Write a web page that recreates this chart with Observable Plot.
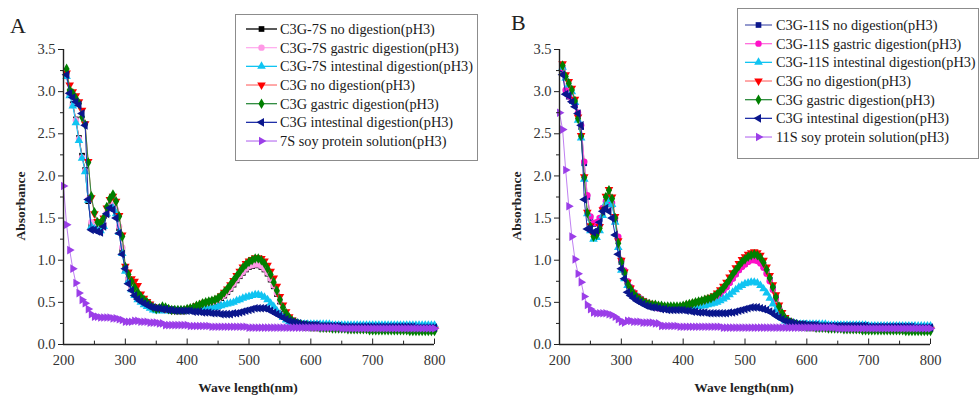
<!DOCTYPE html>
<html>
<head>
<meta charset="utf-8">
<script src="https://cdn.jsdelivr.net/npm/d3@7"></script>
<script src="https://cdn.jsdelivr.net/npm/@observablehq/plot@0.6"></script>
<style>
  html, body { margin: 0; padding: 0; background: #fff; }
  #wrap { position: relative; width: 980px; height: 395px; overflow: hidden; font-family: "Liberation Serif", "DejaVu Serif", serif; }
  .panel { position: absolute; top: 0; }
  #overlay { position: absolute; left: 0; top: 0; }
</style>
</head>
<body>
<div id="wrap">
  <div id="pA" class="panel" style="left:0px"></div>
  <div id="pB" class="panel" style="left:490px"></div>
  <svg id="overlay" width="980" height="395"></svg>
</div>
<script>
// ---------- tick values ----------
const xTicks = [200, 300, 400, 500, 600, 700, 800];
const xMinor = [250, 350, 450, 550, 650, 750];
const yTicks = [0, 0.5, 1.0, 1.5, 2.0, 2.5, 3.0, 3.5];
const yMinor = [0.25, 0.75, 1.25, 1.75, 2.25, 2.75, 3.25];

// wavelength grid 200..800 nm, 5 nm step (121 samples)
const wavelength = d3.range(200, 801, 5);

// ---------- Panel A series (values at 200,205,...,800 nm) ----------
const a7sNoDig = [
null,3.20,2.97,2.85,2.67,2.45,2.24,2.07,1.70,1.42,
1.38,1.37,1.36,1.41,1.55,1.64,1.65,1.58,1.38,1.12,
0.89,0.77,0.67,0.61,0.56,0.52,0.49,0.47,0.45,0.43,
0.42,0.42,0.42,0.41,0.41,0.41,0.41,0.41,0.41,0.41,
0.41,0.42,0.43,0.44,0.45,0.46,0.47,0.48,0.49,0.50,
0.52,0.55,0.58,0.62,0.66,0.71,0.76,0.81,0.85,0.89,
0.92,0.93,0.94,0.94,0.92,0.89,0.84,0.77,0.69,0.60,
0.51,0.42,0.35,0.30,0.27,0.25,0.24,0.23,0.22,0.22,
0.22,0.21,0.21,0.21,0.21,0.21,0.21,0.21,0.21,0.21,
0.20,0.20,0.20,0.20,0.20,0.20,0.20,0.20,0.20,0.20,
0.20,0.20,0.20,0.20,0.20,0.20,0.20,0.20,0.20,0.20,
0.20,0.20,0.20,0.20,0.20,0.20,0.20,0.20,0.20,0.20,
0.20];
const a7sGastric = [
null,3.18,2.96,2.84,2.66,2.44,2.22,2.06,1.72,1.45,
1.40,1.38,1.37,1.42,1.56,1.65,1.66,1.60,1.40,1.15,
0.90,0.78,0.68,0.62,0.57,0.53,0.50,0.48,0.46,0.44,
0.43,0.42,0.42,0.42,0.41,0.41,0.41,0.41,0.41,0.41,
0.41,0.42,0.43,0.44,0.45,0.47,0.48,0.49,0.50,0.51,
0.53,0.56,0.59,0.63,0.67,0.72,0.77,0.82,0.86,0.90,
0.93,0.94,0.95,0.95,0.93,0.90,0.85,0.78,0.70,0.61,
0.52,0.43,0.36,0.31,0.28,0.26,0.24,0.23,0.22,0.22,
0.22,0.22,0.21,0.21,0.21,0.21,0.21,0.21,0.21,0.21,
0.21,0.21,0.20,0.20,0.20,0.20,0.20,0.20,0.20,0.20,
0.20,0.20,0.20,0.20,0.20,0.20,0.20,0.20,0.20,0.20,
0.20,0.20,0.20,0.20,0.20,0.20,0.20,0.20,0.20,0.20,
0.20];
const a7sIntestinal = [
null,3.18,2.95,2.83,2.63,2.42,2.21,2.05,1.71,1.40,
1.37,1.36,1.35,1.40,1.55,1.62,1.62,1.55,1.33,1.08,
0.87,0.75,0.65,0.58,0.53,0.50,0.47,0.45,0.43,0.41,
0.40,0.40,0.40,0.40,0.40,0.40,0.40,0.40,0.40,0.40,
0.40,0.40,0.41,0.41,0.42,0.42,0.43,0.43,0.44,0.44,
0.45,0.46,0.47,0.48,0.49,0.50,0.52,0.53,0.55,0.56,
0.57,0.58,0.59,0.59,0.58,0.56,0.53,0.49,0.45,0.40,
0.36,0.32,0.29,0.27,0.26,0.25,0.25,0.24,0.24,0.24,
0.24,0.24,0.24,0.24,0.24,0.24,0.24,0.23,0.23,0.23,
0.23,0.23,0.23,0.23,0.23,0.23,0.23,0.23,0.23,0.23,
0.23,0.23,0.23,0.23,0.23,0.23,0.23,0.23,0.23,0.23,
0.23,0.23,0.23,0.23,0.23,0.23,0.23,0.23,0.23,0.23,
0.23];
const aC3gNoDig = [
null,3.22,3.08,3.00,2.95,2.88,2.78,2.62,2.17,1.74,
1.55,1.46,1.45,1.50,1.62,1.72,1.76,1.70,1.53,1.30,
0.93,0.86,0.78,0.75,0.70,0.60,0.55,0.51,0.48,0.45,
0.43,0.43,0.44,0.43,0.42,0.41,0.41,0.41,0.41,0.41,
0.42,0.43,0.44,0.46,0.47,0.49,0.50,0.51,0.52,0.53,
0.55,0.58,0.62,0.66,0.71,0.76,0.82,0.87,0.92,0.96,
0.99,1.01,1.03,1.03,1.02,0.99,0.94,0.87,0.79,0.69,
0.57,0.47,0.39,0.33,0.29,0.26,0.25,0.23,0.22,0.22,
0.22,0.21,0.21,0.21,0.21,0.20,0.20,0.20,0.20,0.20,
0.20,0.20,0.19,0.19,0.19,0.19,0.19,0.19,0.19,0.19,
0.19,0.19,0.19,0.19,0.19,0.19,0.19,0.18,0.18,0.18,
0.18,0.18,0.18,0.18,0.18,0.18,0.18,0.18,0.18,0.18,
0.18];
const aC3gGastric = [
null,3.27,3.02,2.98,2.92,2.86,2.70,2.61,2.16,1.76,
1.57,1.45,1.44,1.50,1.63,1.73,1.78,1.70,1.52,1.28,
0.92,0.83,0.75,0.68,0.62,0.57,0.53,0.50,0.47,0.44,
0.42,0.43,0.45,0.44,0.42,0.41,0.41,0.41,0.41,0.41,
0.42,0.43,0.44,0.46,0.47,0.49,0.50,0.51,0.52,0.53,
0.55,0.58,0.62,0.66,0.71,0.76,0.81,0.86,0.91,0.95,
0.98,1.00,1.02,1.02,1.00,0.96,0.90,0.83,0.74,0.64,
0.53,0.44,0.37,0.32,0.28,0.26,0.24,0.23,0.22,0.22,
0.21,0.21,0.21,0.20,0.20,0.20,0.20,0.19,0.19,0.19,
0.19,0.19,0.18,0.18,0.18,0.18,0.18,0.18,0.18,0.17,
0.17,0.17,0.17,0.17,0.17,0.17,0.17,0.17,0.17,0.17,
0.17,0.17,0.16,0.16,0.16,0.16,0.16,0.16,0.16,0.16,
0.16];
const aC3gIntestinal = [
null,3.20,2.98,2.93,2.88,2.84,2.74,2.60,1.72,1.36,
1.36,1.34,1.33,1.40,1.55,1.62,1.60,1.50,1.32,1.07,
0.90,0.72,0.64,0.58,0.54,0.51,0.49,0.47,0.45,0.44,
0.43,0.43,0.42,0.42,0.41,0.41,0.40,0.40,0.40,0.40,
0.40,0.40,0.39,0.39,0.39,0.38,0.38,0.38,0.37,0.37,
0.37,0.36,0.36,0.36,0.36,0.37,0.37,0.38,0.39,0.40,
0.41,0.42,0.43,0.43,0.43,0.43,0.42,0.40,0.38,0.36,
0.34,0.32,0.30,0.28,0.27,0.26,0.25,0.24,0.24,0.23,
0.23,0.23,0.23,0.22,0.22,0.22,0.22,0.22,0.22,0.22,
0.21,0.21,0.21,0.21,0.21,0.21,0.21,0.21,0.21,0.21,
0.21,0.21,0.21,0.21,0.21,0.21,0.21,0.21,0.21,0.21,
0.21,0.21,0.21,0.21,0.20,0.20,0.20,0.20,0.20,0.20,
0.20];
const a7sSoy = [
1.88,1.42,1.12,0.90,0.73,0.61,0.53,0.49,0.42,0.36,
0.33,0.33,0.32,0.32,0.32,0.32,0.31,0.31,0.30,0.29,
0.27,0.27,0.27,0.28,0.28,0.27,0.27,0.27,0.26,0.26,
0.26,0.25,0.25,0.23,0.23,0.23,0.23,0.23,0.23,0.23,
0.23,0.22,0.22,0.22,0.22,0.22,0.22,0.22,0.21,0.21,
0.21,0.21,0.21,0.21,0.21,0.21,0.21,0.21,0.21,0.21,
0.20,0.20,0.20,0.20,0.20,0.20,0.20,0.20,0.20,0.20,
0.20,0.20,0.20,0.20,0.20,0.20,0.20,0.20,0.20,0.20,
0.20,0.20,0.20,0.20,0.20,0.20,0.20,0.20,0.20,0.20,
0.19,0.19,0.19,0.19,0.19,0.19,0.19,0.19,0.19,0.19,
0.19,0.19,0.19,0.19,0.19,0.19,0.19,0.19,0.19,0.19,
0.19,0.19,0.19,0.19,0.19,0.19,0.19,0.19,0.19,0.19,
0.19];

// ---------- Panel B series ----------
const b11sNoDig = [
null,3.26,3.00,2.94,2.89,2.84,2.74,2.58,2.15,1.75,
1.50,1.43,1.44,1.49,1.61,1.69,1.71,1.66,1.48,1.26,
0.98,0.86,0.74,0.67,0.61,0.57,0.54,0.51,0.48,0.46,
0.45,0.44,0.43,0.43,0.43,0.43,0.43,0.43,0.43,0.43,
0.44,0.45,0.46,0.47,0.48,0.49,0.50,0.51,0.52,0.53,
0.55,0.58,0.61,0.65,0.69,0.74,0.79,0.84,0.89,0.93,
0.96,0.99,1.01,1.02,1.01,0.98,0.93,0.86,0.77,0.67,
0.56,0.45,0.37,0.31,0.28,0.26,0.24,0.23,0.22,0.22,
0.22,0.22,0.21,0.21,0.21,0.21,0.21,0.21,0.21,0.21,
0.21,0.21,0.21,0.21,0.21,0.21,0.21,0.21,0.21,0.21,
0.20,0.20,0.20,0.20,0.20,0.20,0.20,0.20,0.20,0.20,
0.20,0.20,0.20,0.20,0.20,0.20,0.20,0.20,0.20,0.20,
0.20];
const b11sGastric = [
null,3.28,3.02,2.95,2.90,2.85,2.75,2.60,2.17,1.77,
1.52,1.44,1.45,1.50,1.62,1.70,1.72,1.68,1.50,1.28,
1.00,0.88,0.75,0.68,0.62,0.58,0.55,0.52,0.49,0.47,
0.46,0.44,0.43,0.43,0.43,0.43,0.43,0.43,0.43,0.43,
0.44,0.45,0.46,0.47,0.48,0.49,0.50,0.51,0.52,0.53,
0.55,0.57,0.60,0.64,0.68,0.73,0.78,0.83,0.88,0.92,
0.95,0.98,1.00,1.00,0.99,0.96,0.91,0.84,0.75,0.65,
0.54,0.44,0.36,0.31,0.28,0.26,0.24,0.23,0.22,0.22,
0.22,0.21,0.21,0.21,0.21,0.21,0.21,0.20,0.20,0.20,
0.20,0.20,0.20,0.20,0.20,0.20,0.20,0.20,0.20,0.20,
0.20,0.20,0.20,0.20,0.20,0.20,0.20,0.20,0.20,0.20,
0.19,0.19,0.19,0.19,0.19,0.19,0.19,0.19,0.19,0.19,
0.19];
const b11sIntestinal = [
null,3.29,3.16,3.08,3.00,2.87,2.66,2.45,1.96,1.55,
1.35,1.25,1.27,1.35,1.53,1.68,1.72,1.66,1.45,1.15,
0.88,0.78,0.70,0.64,0.60,0.57,0.55,0.52,0.50,0.48,
0.46,0.45,0.44,0.44,0.44,0.44,0.43,0.43,0.43,0.43,
0.43,0.43,0.44,0.44,0.45,0.45,0.46,0.46,0.47,0.48,
0.49,0.50,0.52,0.54,0.56,0.59,0.62,0.65,0.68,0.70,
0.72,0.73,0.74,0.74,0.73,0.70,0.66,0.61,0.55,0.48,
0.41,0.35,0.31,0.28,0.26,0.25,0.25,0.24,0.24,0.24,
0.24,0.24,0.24,0.24,0.24,0.24,0.24,0.23,0.23,0.23,
0.23,0.23,0.23,0.23,0.23,0.23,0.23,0.23,0.23,0.23,
0.22,0.22,0.22,0.22,0.22,0.22,0.22,0.22,0.22,0.22,
0.22,0.22,0.22,0.22,0.22,0.22,0.22,0.22,0.22,0.22,
0.22];
const bC3gNoDig = [
null,3.33,3.20,3.12,3.04,2.91,2.70,2.48,1.99,1.57,
1.41,1.30,1.31,1.40,1.60,1.76,1.84,1.75,1.52,1.23,
1.00,0.86,0.74,0.67,0.61,0.57,0.54,0.52,0.50,0.49,
0.48,0.47,0.46,0.46,0.45,0.45,0.45,0.45,0.45,0.45,
0.46,0.47,0.48,0.49,0.50,0.51,0.52,0.53,0.55,0.56,
0.58,0.61,0.65,0.69,0.74,0.80,0.85,0.91,0.96,1.01,
1.04,1.07,1.09,1.10,1.09,1.06,1.00,0.92,0.82,0.71,
0.59,0.47,0.38,0.32,0.28,0.26,0.25,0.24,0.23,0.22,
0.22,0.22,0.21,0.21,0.21,0.21,0.20,0.20,0.20,0.20,
0.20,0.20,0.19,0.19,0.19,0.19,0.19,0.19,0.19,0.19,
0.19,0.19,0.19,0.19,0.19,0.18,0.18,0.18,0.18,0.18,
0.18,0.18,0.18,0.18,0.18,0.18,0.18,0.18,0.18,0.18,
0.18];
const bC3gGastric = [
null,3.31,3.18,3.10,3.02,2.89,2.68,2.47,1.98,1.56,
1.40,1.28,1.30,1.38,1.58,1.75,1.83,1.73,1.50,1.20,
0.98,0.85,0.72,0.66,0.60,0.56,0.53,0.51,0.49,0.48,
0.47,0.47,0.46,0.46,0.45,0.45,0.45,0.45,0.45,0.45,
0.46,0.47,0.48,0.49,0.50,0.51,0.52,0.53,0.54,0.55,
0.57,0.60,0.63,0.67,0.72,0.77,0.83,0.88,0.93,0.98,
1.01,1.04,1.06,1.07,1.06,1.03,0.97,0.89,0.79,0.68,
0.56,0.45,0.37,0.31,0.28,0.26,0.24,0.23,0.22,0.22,
0.21,0.21,0.21,0.20,0.20,0.20,0.20,0.19,0.19,0.19,
0.19,0.19,0.18,0.18,0.18,0.18,0.18,0.18,0.17,0.17,
0.17,0.17,0.17,0.17,0.17,0.17,0.17,0.17,0.17,0.17,
0.17,0.17,0.16,0.16,0.16,0.16,0.16,0.16,0.16,0.16,
0.16];
const bC3gIntestinal = [
null,3.20,2.97,2.95,2.88,2.82,2.74,2.60,1.72,1.37,
1.37,1.33,1.35,1.45,1.58,1.62,1.58,1.50,1.30,1.07,
0.90,0.78,0.62,0.58,0.55,0.52,0.50,0.48,0.46,0.45,
0.44,0.44,0.43,0.42,0.42,0.41,0.41,0.41,0.41,0.41,
0.41,0.40,0.40,0.39,0.39,0.38,0.38,0.38,0.37,0.37,
0.37,0.37,0.37,0.37,0.37,0.38,0.38,0.39,0.40,0.41,
0.42,0.43,0.44,0.44,0.44,0.43,0.42,0.41,0.39,0.37,
0.34,0.32,0.30,0.28,0.27,0.26,0.25,0.24,0.24,0.24,
0.23,0.23,0.23,0.23,0.22,0.22,0.22,0.22,0.22,0.22,
0.22,0.22,0.22,0.22,0.22,0.22,0.22,0.22,0.22,0.22,
0.21,0.21,0.21,0.21,0.21,0.21,0.21,0.21,0.21,0.21,
0.21,0.21,0.21,0.21,0.21,0.20,0.20,0.20,0.20,0.20,
0.20];
const b11sSoy = [
2.75,2.55,2.07,1.64,1.28,1.01,0.84,0.74,0.57,0.47,
0.42,0.38,0.37,0.37,0.37,0.37,0.36,0.35,0.33,0.30,
0.27,0.26,0.28,0.28,0.27,0.27,0.27,0.26,0.26,0.26,
0.26,0.25,0.25,0.22,0.22,0.22,0.22,0.22,0.22,0.21,
0.21,0.21,0.21,0.21,0.21,0.21,0.21,0.21,0.21,0.21,
0.21,0.21,0.21,0.20,0.20,0.20,0.20,0.20,0.20,0.20,
0.20,0.20,0.20,0.20,0.20,0.20,0.20,0.20,0.20,0.20,
0.20,0.20,0.20,0.20,0.20,0.20,0.20,0.20,0.20,0.20,
0.20,0.20,0.20,0.20,0.20,0.20,0.20,0.20,0.20,0.20,
0.19,0.19,0.19,0.19,0.19,0.19,0.19,0.19,0.19,0.19,
0.19,0.19,0.19,0.19,0.19,0.19,0.19,0.19,0.19,0.19,
0.19,0.19,0.19,0.19,0.19,0.19,0.19,0.19,0.19,0.19,
0.19];

// ---------- labels ----------
const legendA = [
  "C3G-7S no digestion(pH3)",
  "C3G-7S gastric digestion(pH3)",
  "C3G-7S intestinal digestion(pH3)",
  "C3G no digestion(pH3)",
  "C3G gastric digestion(pH3)",
  "C3G intestinal digestion(pH3)",
  "7S soy protein solution(pH3)"
];
const legendB = [
  "C3G-11S no digestion(pH3)",
  "C3G-11S gastric digestion(pH3)",
  "C3G-11S intestinal digestion(pH3)",
  "C3G no digestion(pH3)",
  "C3G gastric digestion(pH3)",
  "C3G intestinal digestion(pH3)",
  "11S soy protein solution(pH3)"
];
const panelTitles = ["A", "B"];
const xLabel = "Wave length(nm)";
const yLabel = "Absorbance";

// ---------- custom triangle symbols ----------
function triSymbol(angleDeg) {
  return {
    draw(ctx, size) {
      const R = Math.sqrt(size / 1.299);
      const a0 = angleDeg * Math.PI / 180;
      for (let k = 0; k < 3; k++) {
        const a = a0 + k * 2 * Math.PI / 3;
        const px = R * Math.cos(a), py = R * Math.sin(a);
        if (k === 0) ctx.moveTo(px, py); else ctx.lineTo(px, py);
      }
      ctx.closePath();
    }
  };
}
const triUp = triSymbol(-90), triDown = triSymbol(90), triLeft = triSymbol(180), triRight = triSymbol(0);
const symbols = [d3.symbolSquare, d3.symbolCircle, triUp, triDown, d3.symbolDiamond, triLeft, triRight];

// styles (marker fill, line stroke) per series
const stylesA = [
  {fill: "#000000", line: "#000000"},
  {fill: "#ff99e6", line: "#ffb0ee"},
  {fill: "#10c4f2", line: "#10c4f2"},
  {fill: "#ff0000", line: "#ff7a7a"},
  {fill: "#008000", line: "#2e8b3e"},
  {fill: "#0a168c", line: "#2030a8"},
  {fill: "#9b3ee8", line: "#bf80f2"}
];
const stylesB = [
  {fill: "#0a168c", line: "#5a64b4"},
  {fill: "#ff10c8", line: "#ff70dc"},
  {fill: "#10c4f2", line: "#10c4f2"},
  {fill: "#ff0000", line: "#ff7a7a"},
  {fill: "#008000", line: "#2e8b3e"},
  {fill: "#0a168c", line: "#2030a8"},
  {fill: "#9b3ee8", line: "#bf80f2"}
];

const seriesA = [a7sNoDig, a7sGastric, a7sIntestinal, aC3gNoDig, aC3gGastric, aC3gIntestinal, a7sSoy];
const seriesB = [b11sNoDig, b11sGastric, b11sIntestinal, bC3gNoDig, bC3gGastric, bC3gIntestinal, b11sSoy];

const FONT = '"Liberation Serif", "Times New Roman", serif';
const R_DOT = 3.2;

function makePanel(series, styles, margins) {
  const marks = [];
  series.forEach((vals, s) => {
    const rows = wavelength.map((nm, i) => ({nm, v: vals[i]})).filter(d => d.v != null);
    marks.push(Plot.line(rows, {x: "nm", y: "v", stroke: styles[s].line, strokeWidth: 1}));
    marks.push(Plot.dot(rows, {x: "nm", y: "v", fill: styles[s].fill, symbol: symbols[s], r: R_DOT}));
  });
  // axes
  marks.push(Plot.axisY(yTicks, {tickSize: 5, tickPadding: 3, tickFormat: d => d.toFixed(1), fontSize: 14.5, fill: "#333", stroke: "#222", label: null}));
  marks.push(Plot.axisY(yMinor, {tickSize: 3, tickFormat: () => "", stroke: "#222", label: null}));
  marks.push(Plot.axisX(xTicks, {tickSize: 0, tickPadding: 10, tickFormat: d => String(d), fontSize: 14.5, fill: "#333", label: null}));
  marks.push(Plot.ruleX(xTicks, {x: d => d, y1: 0, y2: 0.065, stroke: "#222", strokeWidth: 1}));
  marks.push(Plot.ruleX(xMinor, {x: d => d, y1: 0, y2: 0.04, stroke: "#222", strokeWidth: 1}));
  marks.push(Plot.ruleX([200], {stroke: "#222", strokeWidth: 1.4}));
  marks.push(Plot.ruleY([0], {stroke: "#222", strokeWidth: 1.4}));
  return Plot.plot({
    width: 490, height: 395,
    marginLeft: margins.left, marginRight: margins.right, marginTop: 49, marginBottom: 51,
    x: {domain: [200, 800], axis: null},
    y: {domain: [0, 3.5], axis: null},
    style: {fontFamily: FONT, fontSize: "14px", background: "transparent", overflow: "visible"},
    marks
  });
}

document.getElementById("pA").appendChild(makePanel(seriesA, stylesA, {left: 63, right: 56}));
document.getElementById("pB").appendChild(makePanel(seriesB, stylesB, {left: 69, right: 50}));

// ---------- overlay: titles, axis labels, legends ----------
const ov = d3.select("#overlay");
const panelsCfg = [
  {title: panelTitles[0], tx: 10, ty: 33, ylx: 22, xlx: 248, box: [235, 14, 242, 146], rowY0: 29, lineX: [246, 277], textX: 280, labels: legendA, styles: stylesA},
  {title: panelTitles[1], tx: 511, ty: 30, ylx: 518, xlx: 744, box: [737, 8, 241, 150], rowY0: 25, lineX: [745, 772], textX: 776, labels: legendB, styles: stylesB}
];
panelsCfg.forEach(p => {
  ov.append("text").attr("x", p.tx).attr("y", p.ty).text(p.title)
    .attr("font-family", FONT).attr("font-size", 22).attr("fill", "#222");
  ov.append("text").attr("transform", `translate(${p.ylx},206) rotate(-90)`).attr("text-anchor", "middle")
    .attr("dominant-baseline", "middle").text(yLabel)
    .attr("font-family", FONT).attr("font-size", 13.5).attr("font-weight", "bold").attr("fill", "#222");
  ov.append("text").attr("x", p.xlx).attr("y", 392).attr("text-anchor", "middle").text(xLabel)
    .attr("font-family", FONT).attr("font-size", 13.5).attr("font-weight", "bold").attr("fill", "#222");
  ov.append("rect").attr("x", p.box[0] + 0.5).attr("y", p.box[1] + 0.5).attr("width", p.box[2]).attr("height", p.box[3])
    .attr("fill", "#fff").attr("stroke", "#8c8c8c").attr("stroke-width", 1);
  p.labels.forEach((lab, i) => {
    const y = p.rowY0 + i * 18.67;
    const st = p.styles[i];
    ov.append("line").attr("x1", p.lineX[0]).attr("x2", p.lineX[1]).attr("y1", y).attr("y2", y)
      .attr("stroke", st.line).attr("stroke-width", 1.3);
    const mx = (p.lineX[0] + p.lineX[1]) / 2;
    ov.append("path").attr("transform", `translate(${mx},${y})`)
      .attr("d", d3.symbol(symbols[i], R_DOT * R_DOT * Math.PI)())
      .attr("fill", st.fill);
    ov.append("text").attr("x", p.textX).attr("y", y).attr("dominant-baseline", "central").text(lab)
      .attr("font-family", FONT).attr("font-size", 14.3).attr("fill", "#1a1a1a");
  });
});
</script>
</body>
</html>
